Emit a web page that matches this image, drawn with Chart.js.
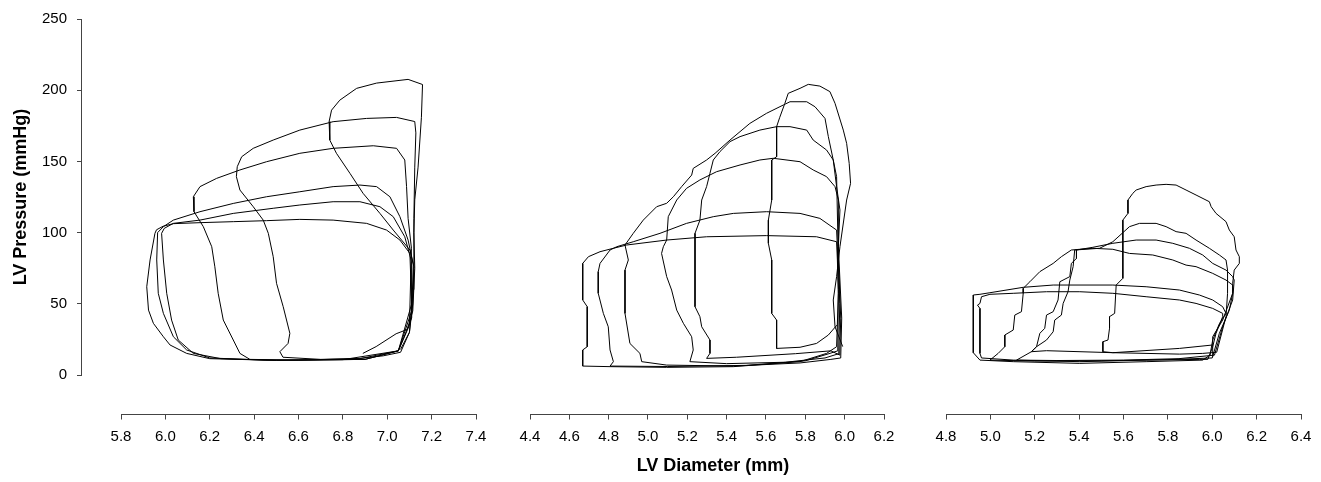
<!DOCTYPE html>
<html>
<head>
<meta charset="utf-8">
<script src="https://cdn.jsdelivr.net/npm/chart.js@4.4.0/dist/chart.umd.min.js"></script>
<style>
  html, body { margin: 0; padding: 0; background: #fff; overflow: hidden; }
  #wrap { position: relative; width: 1321px; height: 482px; }
  canvas { position: absolute; top: 0; }
  #xtitle {
    position: absolute; left: 563px; width: 300px; top: 455px;
    text-align: center; font: bold 18px 'Liberation Sans', Arial, sans-serif; line-height: 20px; color: #000;
  }
</style>
</head>
<body>
<div id="wrap">
  <canvas id="yaxis" width="100" height="482" style="left:0"></canvas>
  <canvas id="panel1" width="395" height="482" style="left:101px"></canvas>
  <canvas id="panel2" width="394" height="482" style="left:510px"></canvas>
  <canvas id="panel3" width="395" height="482" style="left:926px"></canvas>
  <div id="xtitle">LV Diameter (mm)</div>
</div>
<script>
/* LV pressure–diameter loops, three conditions */

// ── tick labels ──────────────────────────────────────────────
const yTicks = [0, 50, 100, 150, 200, 250];
const p1Ticks = [5.8, 6.0, 6.2, 6.4, 6.6, 6.8, 7.0, 7.2, 7.4];
const p2Ticks = [4.4, 4.6, 4.8, 5.0, 5.2, 5.4, 5.6, 5.8, 6.0, 6.2];
const p3Ticks = [4.8, 5.0, 5.2, 5.4, 5.6, 5.8, 6.0, 6.2, 6.4];

// ── panel 1 loops [diameter mm, pressure mmHg] ───────────────
const p1LoopA = [[6.89,15.2],[6.95,20],[7.04,29],[7.09,32],[7.115,45],[7.124,75],[7.12,100],[7.124,123],[7.139,146],[7.154,181],[7.159,204],[7.094,207.6],[6.952,205],[6.862,201.3],[6.786,193],[6.749,186],[6.738,178],[6.741,165],[6.771,155.7],[6.832,141.6],[6.891,127.6],[6.967,113.5],[7.027,101.8],[7.102,87.8],[7.12,76],[7.115,50],[7.1,30],[7.06,18]];
const p1LoopB = [[7.06,16],[7.1,30],[7.117,60],[7.12,85],[7.12,110],[7.124,146],[7.129,170],[7.124,178],[7.042,180.9],[6.907,180.2],[6.756,177.9],[6.606,172],[6.486,165],[6.396,159.2],[6.344,153.3],[6.324,146.3],[6.32,139.3],[6.336,129.9],[6.396,118.2],[6.441,108.8],[6.464,99.5],[6.486,83.1],[6.501,64.4],[6.531,48],[6.561,29.3],[6.553,22.2],[6.516,16.4],[6.53,12.5],[6.7,11],[6.877,11.7],[6.982,13.5],[7.06,16]];
const p1LoopC = [[7.05,17],[7.1,35],[7.109,89],[7.094,110],[7.087,132.3],[7.079,151],[7.042,159.2],[6.937,161],[6.756,159.2],[6.606,155.7],[6.456,149.8],[6.336,144],[6.231,138.1],[6.156,132.3],[6.126,125.2],[6.129,114.7],[6.171,104.2],[6.209,90.1],[6.223,76],[6.238,57.4],[6.261,38.6],[6.306,24.6],[6.336,15.2],[6.381,11],[6.6,10.5],[6.877,11.5],[7.05,17]];
const p1LoopD = [[7.05,17],[7.11,40],[7.117,78],[7.094,94.8],[7.057,111.2],[7.012,125.2],[6.952,132.3],[6.877,133.4],[6.756,132.3],[6.606,128.7],[6.456,125.2],[6.306,120.5],[6.156,114.7],[6.036,108.8],[5.991,104.2],[5.965,100],[5.961,80.8],[5.968,57.4],[5.991,43.3],[6.036,26.9],[6.096,17.6],[6.2,12],[6.45,10.5],[6.8,10.8],[7.05,17]];
const p1LoopE = [[7.05,17],[7.11,45],[7.109,80],[7.079,97.1],[7.027,111.2],[6.967,118.2],[6.877,121.7],[6.756,121.7],[6.606,119.4],[6.486,117.1],[6.306,113.5],[6.156,108.8],[6.036,106.5],[5.995,103],[5.983,99.5],[5.991,80.8],[6.006,57.4],[6.028,38.6],[6.058,24.6],[6.126,15.2],[6.25,11.5],[6.5,10.3],[6.9,11],[7.05,17]];
const p1LoopF = [[7.05,17],[7.11,50],[7.102,85.4],[7.057,94.8],[6.997,101.8],[6.907,106.5],[6.756,108.8],[6.606,109.3],[6.456,108.4],[6.306,107.7],[6.156,107],[6.036,106.3],[5.99,104.5],[5.96,102],[5.953,99.5],[5.931,80.8],[5.916,62],[5.924,45.6],[5.946,36.3],[5.991,26.9],[6.021,21.1],[6.096,15.2],[6.2,11.5],[6.5,10.3],[6.9,11],[7.05,17]];

// ── panel 2 loops ────────────────────────────────────────────
const p2Loop1 = [[5.959,19.9],[5.968,57.4],[5.963,80.8],[5.959,93.6],[5.857,97.1],[5.603,97.9],[5.298,97.1],[5.095,94.8],[4.891,91.3],[4.824,89],[4.756,86.6],[4.697,83.1],[4.668,78.4],[4.668,52.7],[4.691,48],[4.691,19.9],[4.668,17.6],[4.668,6.3],[4.807,5.9],[5.095,5.4],[5.434,5.9],[5.773,9.4],[5.908,15.2],[5.959,19.9]];
const p2Loop2 = [[5.965,17],[5.968,60],[5.963,90],[5.959,101.8],[5.874,110],[5.773,113.5],[5.603,114.7],[5.434,113.5],[5.332,111.2],[5.196,106.5],[5.061,99.5],[4.925,93.6],[4.841,90.1],[4.807,87.8],[4.756,78.4],[4.747,72.6],[4.747,57.4],[4.773,43.3],[4.798,33.9],[4.807,17.6],[4.824,9.4],[4.807,6.3],[5.1,6],[5.5,6.8],[5.8,10],[5.92,15],[5.965,17]];
const p2Loop3 = [[5.97,15],[5.975,50],[5.968,80],[5.968,122.9],[5.951,132.3],[5.908,139.3],[5.84,144],[5.773,149.8],[5.637,152.2],[5.569,151],[5.468,147.5],[5.349,142.8],[5.264,137],[5.196,131.1],[5.146,122.9],[5.103,111.2],[5.095,94.8],[5.078,90.1],[5.069,85.4],[5.095,69.1],[5.12,59.7],[5.146,45.6],[5.18,36.3],[5.222,26.9],[5.23,17.6],[5.213,9.4],[5.4,8],[5.7,9],[5.9,12],[5.97,15]];
const p2Loop4 = [[5.975,14],[5.98,40],[5.968,80.8],[5.959,139.3],[5.942,151],[5.908,158],[5.84,165],[5.807,172],[5.722,174.4],[5.654,174.4],[5.569,172],[5.468,167.4],[5.417,163.9],[5.366,156.9],[5.332,151],[5.315,141.6],[5.298,132.3],[5.273,122.9],[5.264,108.8],[5.239,99.5],[5.239,48],[5.264,41],[5.273,33.9],[5.315,24.6],[5.315,15.2],[5.298,11.7],[5.45,12.5],[5.75,15],[5.93,17],[5.975,14]];
const p2Loop5 = [[5.98,12],[5.985,40],[5.968,90.1],[5.976,115.9],[5.959,132.3],[5.942,151],[5.917,167.4],[5.9,180.2],[5.849,188.4],[5.807,191.9],[5.722,191.9],[5.688,189.6],[5.603,183.8],[5.518,176.7],[5.417,165],[5.341,155.7],[5.298,151],[5.23,145.1],[5.222,140.4],[5.171,132.3],[5.129,125.2],[5.095,120.6],[5.044,118.2],[4.976,108.8],[4.925,99.5],[4.883,91.3],[4.9,80.8],[4.883,73.7],[4.883,43.3],[4.908,22.2],[4.959,15.2],[4.968,9.4],[5.095,7],[5.434,6.3],[5.773,8.5],[5.93,11],[5.98,12]];
const p2Loop6 = [[5.99,20],[5.951,33.9],[5.942,52.7],[5.959,69.1],[5.976,90.1],[6.01,122.9],[6.03,134.6],[6.023,148.6],[6.01,162.7],[5.993,172],[5.951,190.8],[5.925,199],[5.874,202.9],[5.815,204.1],[5.773,201.3],[5.713,197.8],[5.696,190.8],[5.67,181],[5.654,174.4],[5.654,153.3],[5.629,151],[5.629,122.9],[5.612,108.8],[5.612,92.5],[5.629,80.8],[5.629,43.3],[5.654,38.6],[5.654,18.7],[5.773,19.5],[5.857,22.2],[5.917,28.1],[5.96,35]];

// ── panel 3 loops ────────────────────────────────────────────
const p3Loop1 = [[5.98,11],[6.002,19.9],[6.017,29.3],[6.047,41],[6.047,43.3],[6.002,46.8],[5.927,50.3],[5.852,52.7],[5.702,55],[5.552,57.4],[5.403,58.5],[5.253,58.5],[5.103,57.4],[4.998,56.7],[4.96,55],[4.953,50.3],[4.942,49.1],[4.953,46.8],[4.953,15.2],[4.96,12],[5.103,10.5],[5.403,9.4],[5.702,10.5],[5.942,11],[5.98,11]];
const p3Loop2 = [[5.99,14],[6.002,24.6],[6.032,36],[6.062,43.3],[6.047,48],[6.002,52.7],[5.942,56.2],[5.852,59.7],[5.702,62],[5.552,63.2],[5.283,63.2],[5.148,61.6],[4.998,57.8],[4.953,56.7],[4.923,56.2],[4.923,15.7],[4.953,10.5],[5.103,9.4],[5.403,8.2],[5.702,9.4],[5.957,10.5],[5.99,14]];
const p3Loop3 = [[6.0,12],[6.032,29.3],[6.077,45.6],[6.092,57.4],[6.092,63.2],[6.062,66.7],[6.002,71.4],[5.927,76.1],[5.882,77.2],[5.822,80.8],[5.732,84.3],[5.627,85.4],[5.552,88.3],[5.462,89],[5.403,88.3],[5.365,87.8],[5.32,83.1],[5.283,78.4],[5.223,72.6],[5.178,65.5],[5.148,60.9],[5.148,57.4],[5.14,44.5],[5.11,42.1],[5.103,31.6],[5.065,28.1],[5.065,19.9],[5.035,15.2],[4.998,10.5],[5.2,9.8],[5.5,10],[5.8,10.8],[6.0,12]];
const p3Loop4 = [[6.01,14],[6.047,33.9],[6.092,52.7],[6.099,66.7],[6.092,69.1],[6.062,73.7],[6.002,78.4],[5.957,84.3],[5.897,89],[5.822,92.5],[5.747,94.8],[5.657,94.8],[5.552,92.5],[5.462,89.7],[5.388,87.8],[5.388,81.9],[5.365,78.4],[5.358,69.1],[5.313,65.5],[5.305,52.7],[5.283,44.5],[5.253,42.1],[5.245,32.8],[5.223,29.3],[5.208,19.9],[5.185,16.4],[5.118,10.5],[5.3,10.2],[5.6,10.5],[5.85,11.5],[6.01,14]];
const p3Loop5 = [[6.02,16],[6.062,41],[6.069,57.4],[6.069,73.7],[6.062,80.8],[6.032,84.3],[5.987,89],[5.927,94.8],[5.882,99.5],[5.837,100.7],[5.792,104.2],[5.747,106.5],[5.672,106.5],[5.627,104.2],[5.552,93.6],[5.492,89],[5.38,87.8],[5.373,76.1],[5.358,66.7],[5.35,58.5],[5.328,50.3],[5.32,42.1],[5.29,38.6],[5.283,30.4],[5.253,24.6],[5.208,19.9],[5.185,16.4],[5.253,17.1],[5.552,15.7],[5.852,14.7],[5.957,15.2],[6.02,16]];
const p3Loop6 = [[6.0,13],[6.002,26.9],[6.047,38.6],[6.092,57.4],[6.092,64.4],[6.099,73.7],[6.122,78.4],[6.122,83.1],[6.107,87.8],[6.099,97.1],[6.077,101.8],[6.062,107.7],[6.017,113.5],[5.995,118.2],[5.987,121.7],[5.927,126.4],[5.882,129.9],[5.837,133.4],[5.792,133.9],[5.747,133.4],[5.702,132.3],[5.657,129.9],[5.642,127.6],[5.62,122.9],[5.62,113.5],[5.597,108.8],[5.597,86.6],[5.597,67.9],[5.567,63.2],[5.56,43.3],[5.537,41],[5.537,32.8],[5.53,24.6],[5.507,23.4],[5.507,16.4],[5.552,15.7],[5.852,18.7],[6.002,21.1]];

Chart.defaults.font.family = "'Liberation Sans', Arial, sans-serif";
Chart.defaults.color = '#000';

const axisColor = '#444';
const tickFont = { size: 15 };

function loopDatasets(loops) {
  return loops.map(loop => ({
    data: loop.map(([x, y]) => ({ x, y })),
    showLine: true,
    borderColor: '#000',
    borderWidth: 1,
    pointRadius: 0,
    fill: false,
    tension: 0,
  }));
}

// ── shared y axis ────────────────────────────────────────────
new Chart(document.getElementById('yaxis'), {
  type: 'scatter',
  data: { datasets: [] },
  options: {
    responsive: false,
    animation: false,
    events: [],
    layout: { padding: { top: 19, bottom: 107, left: 0, right: 0 } },
    plugins: { legend: { display: false }, tooltip: { enabled: false } },
    scales: {
      x: { display: false, min: 0, max: 1 },
      y: {
        min: 0,
        max: 250,
        afterBuildTicks: s => { s.ticks = yTicks.map(v => ({ value: v })); },
        afterFit: s => { s.width = 81; },
        grid: { drawOnChartArea: false, drawTicks: true, tickLength: 4, color: axisColor },
        border: { color: axisColor },
        ticks: { padding: 10, font: tickFont, color: '#000' },
        title: {
          display: true,
          text: 'LV Pressure (mmHg)',
          color: '#000',
          font: { size: 18, weight: 'bold' },
          padding: { top: 10, bottom: 0 },
        },
      },
    },
  },
});

// ── one panel per condition ──────────────────────────────────
function makePanel(id, loops, ticks) {
  new Chart(document.getElementById(id), {
    type: 'scatter',
    data: { datasets: loopDatasets(loops) },
    options: {
      responsive: false,
      animation: false,
      events: [],
      layout: { padding: { top: 19, bottom: 0, left: 20, right: 20 } },
      plugins: { legend: { display: false }, tooltip: { enabled: false } },
      scales: {
        x: {
          type: 'linear',
          min: ticks[0],
          max: ticks[ticks.length - 1],
          afterBuildTicks: s => { s.ticks = ticks.map(v => ({ value: v })); },
          afterFit: s => { s.height = 67.5; },
          grid: { drawOnChartArea: false, drawTicks: true, tickLength: 5, color: axisColor },
          border: { color: axisColor },
          ticks: { padding: 8, font: tickFont, color: '#000', maxRotation: 0, autoSkip: false,
                   callback: v => Number(v).toFixed(1) },
        },
        y: { display: false, min: -27.7, max: 250 },
      },
    },
  });
}

makePanel('panel1', [p1LoopA, p1LoopB, p1LoopC, p1LoopD, p1LoopE, p1LoopF], p1Ticks);
makePanel('panel2', [p2Loop1, p2Loop2, p2Loop3, p2Loop4, p2Loop5, p2Loop6], p2Ticks);
makePanel('panel3', [p3Loop1, p3Loop2, p3Loop3, p3Loop4, p3Loop5, p3Loop6], p3Ticks);
</script>
</body>
</html>
